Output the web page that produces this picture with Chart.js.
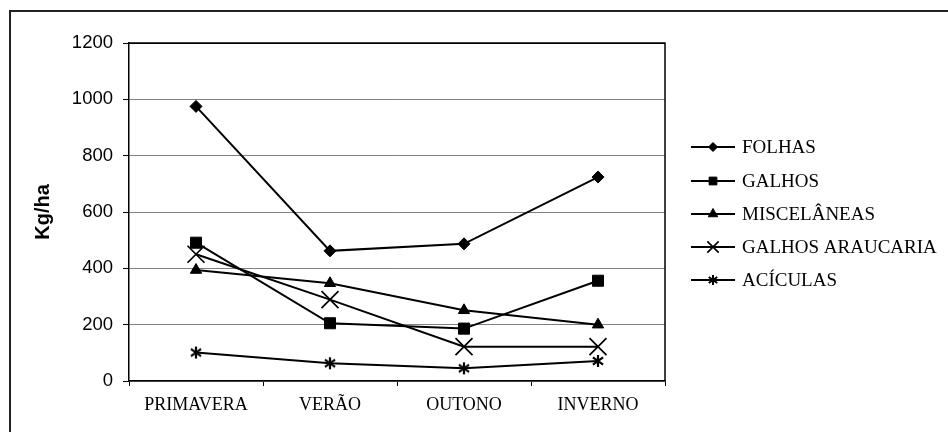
<!DOCTYPE html>
<html>
<head>
<meta charset="utf-8">
<script src="https://cdn.jsdelivr.net/npm/chart.js@4.4.0/dist/chart.umd.min.js"></script>
<style>
  html, body { margin: 0; padding: 0; background: #fff; }
  #wrap { width: 948px; height: 432px; position: relative; }
</style>
</head>
<body>
<div id="wrap"><canvas id="chart"></canvas></div>
<script>
// values (Kg/ha per season)
const seasons = ["PRIMAVERA", "VERÃO", "OUTONO", "INVERNO"];
const folhas = [975, 462, 487, 724];
const galhos = [491, 205, 186, 356];
const miscelaneas = [394, 347, 251, 200];
const galhosAraucaria = [450, 289, 122, 122];
const aciculas = [101, 63, 45, 71];
const seriesNames = ["FOLHAS", "GALHOS", "MISCELÂNEAS", "GALHOS ARAUCARIA", "ACÍCULAS"];
const yTicks = [0, 200, 400, 600, 800, 1000, 1200];

// asterisk marker: an X plus a vertical bar
function asteriskMarker(size, lw) {
    const c = document.createElement("canvas");
    c.width = c.height = size;
    const g = c.getContext("2d");
    const m = size / 2, r = size / 2 - 1, d = r * 0.85;
    g.strokeStyle = "#000";
    g.lineWidth = lw;
    g.beginPath();
    g.moveTo(m, m - r); g.lineTo(m, m + r);
    g.moveTo(m - d, m - d * 0.7); g.lineTo(m + d, m + d * 0.7);
    g.moveTo(m - d, m + d * 0.7); g.lineTo(m + d, m - d * 0.7);
    g.stroke();
    return c;
}

const styles = [
    { pointStyle: "rectRot", radius: 6, legendRadius: 4.5 },
    { pointStyle: "rect", radius: 7.8, legendRadius: 5.5 },
    { pointStyle: "triangle", radius: 6.5, legendRadius: 5.5 },
    { pointStyle: "crossRot", radius: 12, legendRadius: 8 },
    { pointStyle: asteriskMarker(14, 2.2), radius: 6, legendRadius: 5, legendImage: asteriskMarker(12, 2) }
];

const values = [folhas, galhos, miscelaneas, galhosAraucaria, aciculas];

const datasets = values.map((data, i) => ({
    label: seriesNames[i],
    data: data,
    borderColor: "#000",
    backgroundColor: "#000",
    borderWidth: 2,
    pointStyle: styles[i].pointStyle,
    pointRadius: styles[i].radius,
    pointBorderWidth: i === 3 ? 1.7 : 1,
    pointBackgroundColor: "#000",
    pointBorderColor: "#000",
    tension: 0
}));

// outer frame (left and top edges) and plot box
const framePlugin = {
    id: "frame",
    beforeDraw(chart) {
        const ctx = chart.ctx;
        ctx.save();
        ctx.fillStyle = "#fff";
        ctx.fillRect(0, 0, chart.width, chart.height);
        ctx.strokeStyle = "#222";
        ctx.lineWidth = 2;
        ctx.beginPath();
        ctx.moveTo(10, chart.height);
        ctx.lineTo(10, 11);
        ctx.lineTo(chart.width, 11);
        ctx.stroke();
        ctx.restore();
    },
    afterDatasetsDraw(chart) {
        const a = chart.chartArea;
        const ctx = chart.ctx;
        ctx.save();
        ctx.strokeStyle = "#000";
        ctx.lineWidth = 1.5;
        ctx.beginPath();
        ctx.moveTo(a.left, a.top);
        ctx.lineTo(a.right, a.top);
        ctx.lineTo(a.right, a.bottom);
        ctx.stroke();
        ctx.restore();
    }
};

// legend drawn at the right, line with marker in the middle
const legendPlugin = {
    id: "sideLegend",
    afterDraw(chart) {
        const ctx = chart.ctx;
        const x0 = 691, x1 = 735, tx = 742;
        const ys = [147, 181, 214, 247, 280];
        ctx.save();
        chart.data.datasets.forEach((ds, i) => {
            const y = ys[i];
            ctx.strokeStyle = "#000";
            ctx.lineWidth = 2;
            ctx.beginPath();
            ctx.moveTo(x0, y);
            ctx.lineTo(x1, y);
            ctx.stroke();
            const st = styles[i];
            ctx.fillStyle = "#000";
            ctx.strokeStyle = "#000";
            ctx.lineWidth = i === 3 ? 1.7 : 1;
            Chart.helpers.drawPoint(ctx, {
                pointStyle: st.legendImage || st.pointStyle,
                radius: st.legendRadius,
                rotation: 0,
                borderWidth: ctx.lineWidth
            }, (x0 + x1) / 2, y);
            ctx.fillStyle = "#000";
            ctx.font = '19px "Liberation Serif", "Times New Roman", serif';
            ctx.textBaseline = "middle";
            ctx.textAlign = "left";
            ctx.fillText(ds.label, tx, y + 1);
        });
        ctx.restore();
    }
};

new Chart(document.getElementById("chart"), {
    type: "line",
    data: { labels: seasons, datasets: datasets },
    plugins: [framePlugin, legendPlugin],
    options: {
        responsive: true,
        maintainAspectRatio: false,
        animation: false,
        layout: { padding: { left: 22, top: 43, right: 283, bottom: 0 } },
        plugins: {
            legend: { display: false },
            tooltip: { enabled: false }
        },
        scales: {
            x: {
                offset: true,
                afterFit(scale) { scale.height = 51; },
                grid: {
                    drawOnChartArea: false,
                    drawTicks: true,
                    tickLength: 5,
                    tickColor: "#000",
                    tickWidth: 1,
                    offset: true
                },
                border: { display: true, color: "#000", width: 1.5 },
                ticks: {
                    color: "#000",
                    padding: 8,
                    maxRotation: 0,
                    font: { family: '"Liberation Serif", "Times New Roman", serif', size: 18 }
                }
            },
            y: {
                min: 0,
                max: 1200,
                afterFit(scale) { scale.width = 129 - 22; },
                afterBuildTicks(scale) { scale.ticks = yTicks.map(v => ({ value: v })); },
                grid: {
                    color: ctx => (ctx.tick && ctx.tick.value === 1200) ? "#000" : "#808080",
                    lineWidth: 1,
                    tickLength: 6,
                    tickColor: "#000"
                },
                border: { display: true, color: "#000", width: 1.5 },
                ticks: {
                    color: "#000",
                    padding: 10,
                    callback: v => String(v),
                    font: { family: '"Liberation Sans", Arial, sans-serif', size: 18.5 }
                },
                title: {
                    display: true,
                    text: "Kg/ha",
                    color: "#000",
                    padding: { top: 9, bottom: 0 },
                    font: { family: '"Liberation Sans", Arial, sans-serif', size: 20, weight: "bold" }
                }
            }
        }
    }
});
</script>
</body>
</html>
